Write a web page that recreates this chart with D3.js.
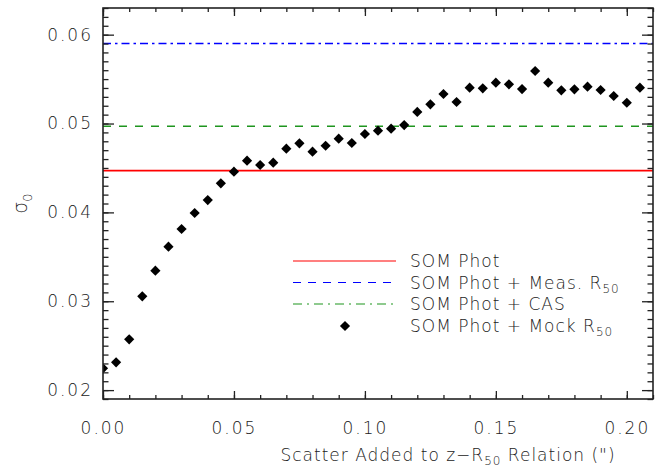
<!DOCTYPE html>
<html><head><meta charset="utf-8">
<script src="https://cdn.jsdelivr.net/npm/d3@7"></script>
<style>
html,body{margin:0;padding:0;background:#fff;}
svg text{font-family:"DejaVu Sans",sans-serif;font-weight:200;fill:#222;}
</style></head>
<body><svg id="c" width="668" height="468"></svg>
<script>
// ---- data ----
const scatterAdded = [0.000,0.005,0.010,0.015,0.020,0.025,0.030,0.035,0.040,0.045,
  0.050,0.055,0.060,0.065,0.070,0.075,0.080,0.085,0.090,0.095,
  0.100,0.105,0.110,0.115,0.120,0.125,0.130,0.135,0.140,0.145,
  0.150,0.155,0.160,0.165,0.170,0.175,0.180,0.185,0.190,0.195,
  0.200,0.205];
const sigmaMockR50 = [0.02245,0.02313,0.02571,0.03055,0.03344,0.03614,0.03813,0.03993,0.04139,0.04327,
  0.04458,0.04582,0.04533,0.04559,0.04717,0.04777,0.04683,0.04750,0.04829,0.04781,
  0.04882,0.04919,0.04942,0.04983,0.05130,0.05216,0.05332,0.05242,0.05403,0.05396,
  0.05460,0.05441,0.05388,0.05591,0.05460,0.05374,0.05385,0.05415,0.05377,0.05310,
  0.05234,0.05403];
const sigmaSomPhot = 0.0447;
const sigmaMeasR50 = 0.0590;
const sigmaCAS = 0.0497;
const xTickValues = [0.00,0.05,0.10,0.15,0.20];
const xTickLabels = ["0.00","0.05","0.10","0.15","0.20"];
const yTickValues = [0.02,0.03,0.04,0.05,0.06];
const yTickLabels = ["0.02","0.03","0.04","0.05","0.06"];
const xDomain = [0, 0.21];
const yDomain = [0.019, 0.063];

// ---- layout ----
const L = 103, R = 653, T = 8, B = 399;
const svg = d3.select("#c");
const x = d3.scaleLinear().domain(xDomain).range([L, R]);
const y = d3.scaleLinear().domain(yDomain).range([B, T]);

svg.append("defs").append("clipPath").attr("id","clip")
  .append("rect").attr("x",L).attr("y",T).attr("width",R-L).attr("height",B-T);

const frameColor = "#222";
const fontSize = 17;

// horizontal reference lines
const g = svg.append("g").attr("clip-path","url(#clip)");
g.append("line").attr("x1",L).attr("x2",R).attr("y1",y(sigmaSomPhot)).attr("y2",y(sigmaSomPhot))
  .attr("stroke","#ff0000").attr("stroke-width",1.6);
g.append("line").attr("x1",L).attr("x2",R).attr("y1",y(sigmaMeasR50)).attr("y2",y(sigmaMeasR50))
  .attr("stroke","#0000ff").attr("stroke-width",1.6).attr("stroke-dasharray","8,4,2.5,4");
g.append("line").attr("x1",L).attr("x2",R).attr("y1",y(sigmaCAS)).attr("y2",y(sigmaCAS))
  .attr("stroke","#1f951f").attr("stroke-width",1.6).attr("stroke-dasharray","8,8");

// points
const diamond = d3.symbol().type(d3.symbolSquare).size(52);
g.selectAll("path.pt").data(scatterAdded).join("path").attr("class","pt")
  .attr("d", diamond)
  .attr("transform",(d,i)=>`translate(${x(d)},${y(sigmaMockR50[i])}) rotate(45)`)
  .attr("fill","#000");

// axes with ticks on all four sides
const xMinor = d3.range(0, 0.2101, 0.01);
const yMinor = d3.range(0.019, 0.0631, 0.001);
const xMajorLen = 8, xMinorLen = 4, yMajorLen = 11, yMinorLen = 5.5;

const axB = d3.axisBottom(x).tickValues(xTickValues).tickFormat((d,i)=>xTickLabels[i]).tickSizeInner(-xMajorLen).tickSizeOuter(0).tickPadding(23);
const axBm = d3.axisBottom(x).tickValues(xMinor).tickFormat("").tickSizeInner(-xMinorLen).tickSizeOuter(0);
const axT = d3.axisTop(x).tickValues(xTickValues).tickFormat("").tickSizeInner(-xMajorLen).tickSizeOuter(0);
const axTm = d3.axisTop(x).tickValues(xMinor).tickFormat("").tickSizeInner(-xMinorLen).tickSizeOuter(0);
const axL = d3.axisLeft(y).tickValues(yTickValues).tickFormat((d,i)=>yTickLabels[i]).tickSizeInner(-yMajorLen).tickSizeOuter(0).tickPadding(10);
const axLm = d3.axisLeft(y).tickValues(yMinor).tickFormat("").tickSizeInner(-yMinorLen).tickSizeOuter(0);
const axR = d3.axisRight(y).tickValues(yTickValues).tickFormat("").tickSizeInner(-yMajorLen).tickSizeOuter(0);
const axRm = d3.axisRight(y).tickValues(yMinor).tickFormat("").tickSizeInner(-yMinorLen).tickSizeOuter(0);

function styleAxis(sel){
  sel.selectAll("path.domain").remove();
  sel.selectAll("line").attr("stroke",frameColor).attr("stroke-width",1.3);
  sel.selectAll("text").attr("font-size",fontSize).attr("fill","#222")
     .attr("font-family","DejaVu Sans").attr("font-weight",200).attr("letter-spacing","2px");
}
[[axB,`translate(0,${B})`],[axBm,`translate(0,${B})`],[axT,`translate(0,${T})`],[axTm,`translate(0,${T})`],
 [axL,`translate(${L},0)`],[axLm,`translate(${L},0)`],[axR,`translate(${R},0)`],[axRm,`translate(${R},0)`]]
 .forEach(([ax,tr])=>{ const s=svg.append("g").attr("transform",tr).call(ax); styleAxis(s); });

// frame
svg.append("rect").attr("x",L).attr("y",T).attr("width",R-L).attr("height",B-T)
  .attr("fill","none").attr("stroke",frameColor).attr("stroke-width",1.6);

// axis titles
const xt = svg.append("text").attr("x",448).attr("y",461).attr("text-anchor","middle")
  .attr("font-size",fontSize).attr("letter-spacing","1px");
xt.append("tspan").text("Scatter Added to z\u2212R");
xt.append("tspan").attr("font-size",12).attr("dy",4).text("50");
xt.append("tspan").attr("dy",-4).text(" Relation (\")");

const yt = svg.append("text").attr("transform",`translate(27,${(T+B)/2}) rotate(-90)`).attr("text-anchor","middle")
  .attr("font-size",fontSize+2);
yt.append("tspan").text("\u03c3");
yt.append("tspan").attr("font-size",13).attr("dy",5).text("0");

// legend
const legendRows = [
  {label:"SOM Phot", sub:"", kind:"line", color:"#ff0000", dash:null},
  {label:"SOM Phot + Meas. R", sub:"50", kind:"line", color:"#0000ff", dash:"8,7"},
  {label:"SOM Phot + CAS", sub:"", kind:"line", color:"#1f951f", dash:"9,5,2,5"},
  {label:"SOM Phot + Mock R", sub:"50", kind:"pt"}
];
const legY = [261, 282.5, 304, 326];
legendRows.forEach((r,i)=>{
  const yy = legY[i];
  if(r.kind==="line"){
    svg.append("line").attr("x1",293).attr("x2",396).attr("y1",yy).attr("y2",yy)
      .attr("stroke",r.color).attr("stroke-width",1.1).attr("stroke-dasharray",r.dash);
  } else {
    svg.append("path").attr("d",diamond).attr("transform",`translate(345,${yy}) rotate(45)`).attr("fill","#000");
  }
  const t = svg.append("text").attr("x",410).attr("y",yy+6).attr("font-size",fontSize).attr("letter-spacing","1px");
  t.append("tspan").text(r.label);
  if(r.sub) t.append("tspan").attr("font-size",12).attr("dy",4).text(r.sub);
});
</script></body></html>
